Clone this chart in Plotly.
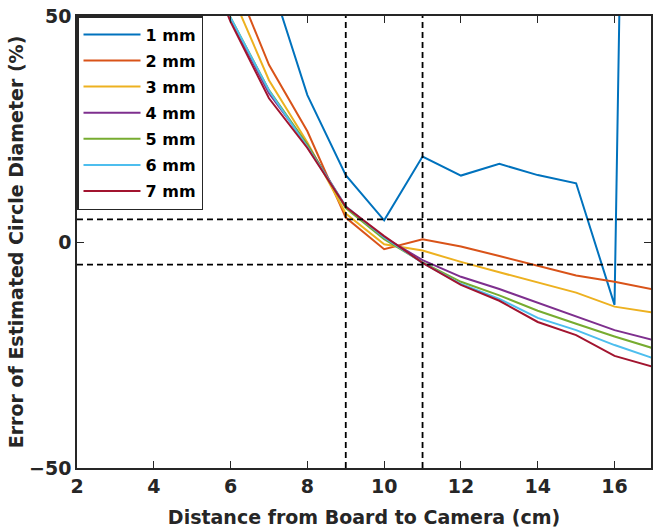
import plotly.graph_objects as go

# Distance from board to camera (cm)
distance_cm = [5, 6, 7, 8, 9, 10, 11, 12, 13, 14, 15, 16, 17]

# Error of the estimated circle diameter (%) for each circle size
err_1mm = [130, 90, 59.0, 32.5, 14.8, 4.8, 18.9, 14.7, 17.3, 14.8, 13.0, -13.9, 500]
err_2mm = [85, 60, 39.2, 24.5, 5.4, -1.6, 0.6, -1.0, -3.1, -5.3, -7.4, -8.8, -10.5]
err_3mm = [78, 55.5, 35.8, 22.0, 6.3, -0.5, -1.9, -4.4, -6.7, -9.0, -11.2, -14.3, -15.6]
err_4mm = [72, 49.2, 32.9, 21.5, 7.8, 1.0, -4.0, -7.7, -10.4, -13.4, -16.4, -19.5, -21.7]
err_5mm = [72, 49.6, 33.6, 21.5, 7.5, 0.6, -4.5, -8.8, -11.8, -15.2, -18.1, -20.9, -23.5]
err_6mm = [72, 49.6, 33.5, 21.0, 7.9, 1.0, -4.6, -9.3, -12.6, -16.8, -19.5, -22.8, -25.7]
err_7mm = [70, 48.7, 31.8, 20.8, 7.8, 1.3, -4.6, -9.5, -13.0, -17.7, -20.6, -25.2, -27.6]

series_names = ["1 mm", "2 mm", "3 mm", "4 mm", "5 mm", "6 mm", "7 mm"]
series_values = [err_1mm, err_2mm, err_3mm, err_4mm, err_5mm, err_6mm, err_7mm]
series_colors = ["#0072BD", "#D95319", "#EDB120", "#7E2F8E", "#77AC30", "#4DBEEE", "#A2142F"]

# Reference bounds drawn as dashed guides
bound_x = [9, 11]
bound_y = [5, -5]

x_ticks = [2, 4, 6, 8, 10, 12, 14, 16]
y_ticks = [-50, 0, 50]

FONT = "DejaVu Sans, Liberation Sans, Arial, sans-serif"
AXIS_COLOR = "#262626"

fig = go.Figure()
for i, (name, vals, col) in enumerate(zip(series_names, series_values, series_colors)):
    fig.add_trace(go.Scatter(
        x=distance_cm, y=vals, mode="lines", name=name,
        legendgroup=f"g{i}",
        line=dict(color=col, width=2),
    ))

for xv in bound_x:
    fig.add_shape(type="line", xref="x", yref="paper", x0=xv, x1=xv, y0=0, y1=1,
                  line=dict(color="black", width=1.8, dash="6px,4px"))
for yv in bound_y:
    fig.add_shape(type="line", xref="paper", yref="y", x0=0, x1=1, y0=yv, y1=yv,
                  line=dict(color="black", width=1.8, dash="6px,4px"))

axis_common = dict(
    showline=True, linecolor=AXIS_COLOR, linewidth=1.5, mirror="ticks",
    ticks="inside", ticklen=7, tickwidth=1.2, tickcolor=AXIS_COLOR,
    showgrid=False, zeroline=False,
    tickfont=dict(family=FONT, size=19, color=AXIS_COLOR, weight="bold"),
)

fig.update_layout(
    width=653, height=532,
    margin=dict(l=77, r=0, t=16, b=64),
    paper_bgcolor="white", plot_bgcolor="white",
    xaxis=dict(
        range=[2, 16.95], tickvals=x_ticks,
        title=dict(text="Distance from Board to Camera (cm)", standoff=15,
                   font=dict(family=FONT, size=19, color=AXIS_COLOR, weight="bold")),
        **axis_common,
    ),
    yaxis=dict(
        range=[-50, 50], tickvals=y_ticks,
        title=dict(text="Error of Estimated Circle Diameter (%)", standoff=0,
                   font=dict(family=FONT, size=19, color=AXIS_COLOR, weight="bold")),
        **axis_common,
    ),
    legend=dict(
        x=0, y=1, xanchor="left", yanchor="top",
        bgcolor="white", bordercolor=AXIS_COLOR, borderwidth=1.5,
        font=dict(family=FONT, size=16, color="black", weight="bold"),
        itemwidth=57, tracegroupgap=2.3,
    ),
    showlegend=True,
)

fig.write_html("out.html")
